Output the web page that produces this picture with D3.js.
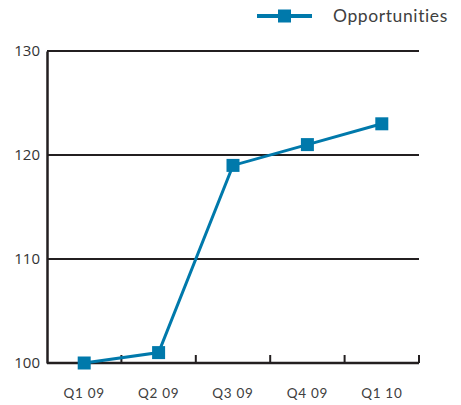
<!DOCTYPE html>
<html>
<head>
<meta charset="utf-8">
<script src="https://cdn.jsdelivr.net/npm/d3@7"></script>
<style>
  html, body { margin: 0; padding: 0; background: #fff; }
  svg { display: block; }
</style>
</head>
<body>
<svg id="chart" width="461" height="405"></svg>
<script>
const quarters = ["Q1 09", "Q2 09", "Q3 09", "Q4 09", "Q1 10"];
const opportunities = [100, 101, 119, 121, 123];
const yTicks = [100, 110, 120, 130];
const seriesName = "Opportunities";

const W = 461, H = 405;
const margin = { top: 51, right: 42, bottom: 42, left: 47 };
const lineColor = "#0079ab";
const axisColor = "#231f20";

const svg = d3.select("#chart");
const innerW = W - margin.left - margin.right;
const innerH = H - margin.top - margin.bottom;
const g = svg.append("g").attr("transform", `translate(${margin.left},${margin.top})`);

const x = d3.scaleBand().domain(quarters).range([0, innerW]);
const y = d3.scaleLinear().domain([100, 130]).range([innerH, 0]);

// horizontal gridlines (above the baseline)
g.selectAll("line.grid")
  .data(yTicks.filter(t => t > 100))
  .join("line")
  .attr("class", "grid")
  .attr("x1", 0).attr("x2", innerW)
  .attr("y1", d => y(d)).attr("y2", d => y(d))
  .attr("stroke", axisColor).attr("stroke-width", 2);

// y axis
const yAxis = g.append("g")
  .call(d3.axisLeft(y).tickValues(yTicks).tickSize(0).tickPadding(7));
yAxis.select(".domain").attr("stroke", axisColor).attr("stroke-width", 2.5);
yAxis.selectAll("text")
  .attr("font-family", "Open Sans, sans-serif")
  .attr("font-size", 15)
  .attr("fill", "#333");

// x axis with ticks at category boundaries pointing up
const xAxisG = g.append("g").attr("transform", `translate(0,${innerH})`);
xAxisG.append("line")
  .attr("x1", 0).attr("x2", innerW).attr("y1", 0).attr("y2", 0)
  .attr("stroke", axisColor).attr("stroke-width", 2.5);
const boundaries = quarters.map(q => x(q)).concat([innerW]).slice(1);
xAxisG.selectAll("line.tick")
  .data(boundaries)
  .join("line")
  .attr("class", "tick")
  .attr("x1", d => d).attr("x2", d => d)
  .attr("y1", 0).attr("y2", -8)
  .attr("stroke", axisColor).attr("stroke-width", 2);
xAxisG.selectAll("text")
  .data(quarters)
  .join("text")
  .attr("x", d => x(d) + x.bandwidth() / 2)
  .attr("y", 35)
  .attr("text-anchor", "middle")
  .attr("font-family", "Lato, sans-serif")
  .attr("font-size", 13.5)
  .attr("letter-spacing", 0.7)
  .attr("fill", "#404040")
  .text(d => d);

// series line
const line = d3.line()
  .x((d, i) => x(quarters[i]) + x.bandwidth() / 2)
  .y(d => y(d));
g.append("path")
  .datum(opportunities)
  .attr("fill", "none")
  .attr("stroke", lineColor)
  .attr("stroke-width", 3)
  .attr("d", line);

const ms = 13;
g.selectAll("rect.marker")
  .data(opportunities)
  .join("rect")
  .attr("class", "marker")
  .attr("x", (d, i) => x(quarters[i]) + x.bandwidth() / 2 - ms / 2)
  .attr("y", d => y(d) - ms / 2)
  .attr("width", ms).attr("height", ms)
  .attr("fill", lineColor);

// legend
const lg = svg.append("g").attr("transform", "translate(257,16)");
lg.append("line").attr("x1", 0).attr("x2", 55).attr("y1", 0).attr("y2", 0)
  .attr("stroke", lineColor).attr("stroke-width", 4);
lg.append("rect").attr("x", 27.5 - ms / 2).attr("y", -ms / 2)
  .attr("width", ms).attr("height", ms).attr("fill", lineColor);
lg.append("text")
  .attr("x", 76).attr("y", 6)
  .attr("font-family", "Lato, sans-serif")
  .attr("font-size", 17.5)
  .attr("letter-spacing", 0.6)
  .attr("fill", "#404040")
  .text(seriesName);
</script>
</body>
</html>
